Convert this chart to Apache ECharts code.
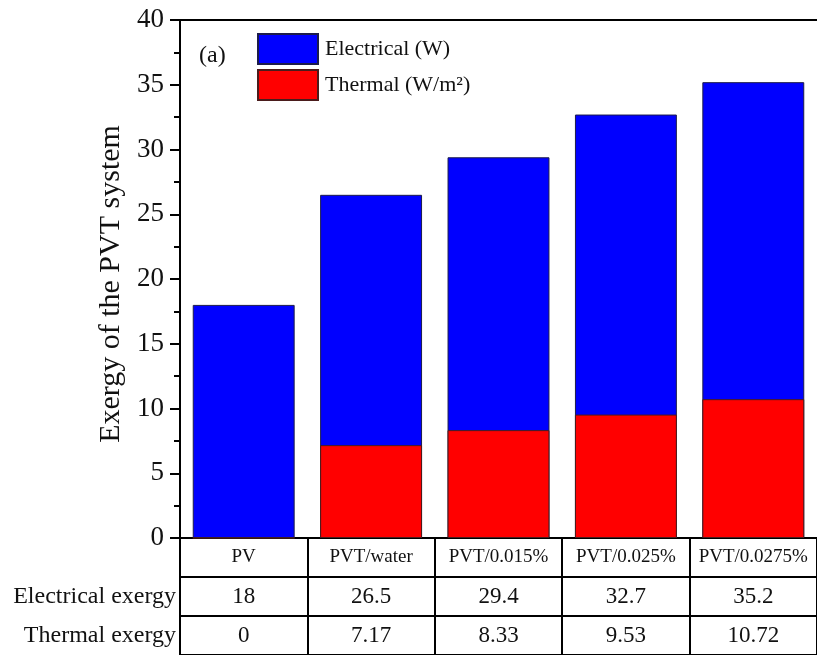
<!DOCTYPE html>
<html>
<head>
<meta charset="utf-8">
<script src="https://cdn.jsdelivr.net/npm/echarts@6/dist/echarts.min.js"></script>
<style>
  html, body { margin: 0; padding: 0; background: #ffffff; }
  #chart { width: 817px; height: 655px; }
</style>
</head>
<body>
<div id="chart"></div>
<script>
// Exergy of the PV / PVT configurations
const categories = ['PV', 'PVT/water', 'PVT/0.015%', 'PVT/0.025%', 'PVT/0.0275%'];
const electrical = [18, 26.5, 29.4, 32.7, 35.2];
const thermal = [0, 7.17, 8.33, 9.53, 10.72];
const seriesNames = ['Electrical (W)', 'Thermal (W/m\u00B2)'];
const rowLabels = ['Electrical exergy', 'Thermal exergy'];
const yMin = 0, yMax = 40, yStep = 5;

const FONT = '"Liberation Serif", "Times New Roman", serif';
const INK = '#111111';

// Rows of the data table under the plot: header row + one row per series
const tableRows = [''].concat(rowLabels);
const tableCells = [];
categories.forEach((c, i) => {
  tableCells.push({ value: [i, 0], name: c, kind: 'head' });
  tableCells.push({ value: [i, 1], name: String(electrical[i]), kind: 'val' });
  tableCells.push({ value: [i, 2], name: String(thermal[i]), kind: 'val' });
});

const chart = echarts.init(document.getElementById('chart'), null, { renderer: 'canvas' });

const plotLeft = 180, plotTop = 20, plotWidth = 642.5, plotHeight = 518;
const tableHeight = 117;

chart.setOption({
  backgroundColor: '#ffffff',
  animation: false,
  grid: [
    { left: plotLeft, top: plotTop, width: plotWidth, height: plotHeight },
    { left: plotLeft, top: plotTop + plotHeight, width: plotWidth, height: tableHeight }
  ],
  legend: {
    orient: 'vertical',
    left: 257,
    top: 33,
    itemWidth: 60,
    itemHeight: 30,
    itemGap: 4,
    padding: 0,
    icon: 'rect',
    data: seriesNames,
    textStyle: { fontFamily: FONT, fontSize: 22, color: INK, padding: [0, 0, 0, 2] }
  },
  xAxis: [
    {
      type: 'category', gridIndex: 0, data: categories,
      axisLine: { show: true, lineStyle: { color: '#000', width: 2 } },
      axisTick: { show: false }, axisLabel: { show: false }, splitLine: { show: false }
    },
    {
      type: 'category', gridIndex: 0, position: 'top', data: categories,
      axisLine: { show: true, lineStyle: { color: '#000', width: 2 } },
      axisTick: { show: false }, axisLabel: { show: false }
    },
    {
      type: 'category', gridIndex: 1, data: categories,
      axisLine: { show: false }, axisTick: { show: false }, axisLabel: { show: false },
      splitLine: { show: true, lineStyle: { color: '#000', width: 2 } }
    }
  ],
  yAxis: [
    {
      type: 'value', gridIndex: 0, min: yMin, max: yMax, interval: yStep,
      name: 'Exergy of the PVT system',
      nameLocation: 'middle', nameGap: 53,
      nameTextStyle: { fontFamily: FONT, fontSize: 30, color: INK, padding: [0, 10, 0, 0] },
      axisLine: { show: true, lineStyle: { color: '#000', width: 2 } },
      axisTick: { show: true, length: 10, lineStyle: { color: '#000', width: 2 } },
      minorTick: { show: true, splitNumber: 2, length: 6, lineStyle: { color: '#000', width: 2 } },
      axisLabel: { fontFamily: FONT, fontSize: 27, color: INK, margin: 16 },
      splitLine: { show: false }
    },
    {
      type: 'category', gridIndex: 1, data: tableRows, inverse: true,
      axisLine: { show: true, lineStyle: { color: '#000', width: 2 } },
      axisTick: { show: false },
      axisLabel: { fontFamily: FONT, fontSize: 24, color: INK, margin: 4 },
      splitLine: { show: true, lineStyle: { color: '#000', width: 2 } }
    }
  ],
  graphic: [
    {
      type: 'text', left: 199, top: 44,
      style: { text: '(a)', font: '24px ' + FONT, fill: INK }
    }
  ],
  series: [
    {
      name: seriesNames[0], type: 'bar', xAxisIndex: 0, yAxisIndex: 0,
      data: electrical, barWidth: '80%', barGap: '-100%',
      itemStyle: { color: '#0000ff', borderColor: '#1c1c4a', borderWidth: 1 }
    },
    {
      name: seriesNames[1], type: 'bar', xAxisIndex: 0, yAxisIndex: 0,
      data: thermal, barWidth: '80%', barGap: '-100%',
      itemStyle: { color: '#ff0000', borderColor: '#4a1c1c', borderWidth: 1 }
    },
    {
      type: 'scatter', xAxisIndex: 2, yAxisIndex: 1,
      symbol: 'rect', symbolSize: 1, itemStyle: { color: '#ffffff', opacity: 1 },
      silent: true,
      data: tableCells.map(c => ({
        value: c.value, name: c.name,
        label: {
          show: true, position: 'inside', formatter: c.name,
          fontFamily: FONT, color: INK, textBorderWidth: 0, opacity: 1,
          fontSize: c.kind === 'head' ? 19 : 23
        }
      }))
    }
  ]
});
</script>
</body>
</html>
